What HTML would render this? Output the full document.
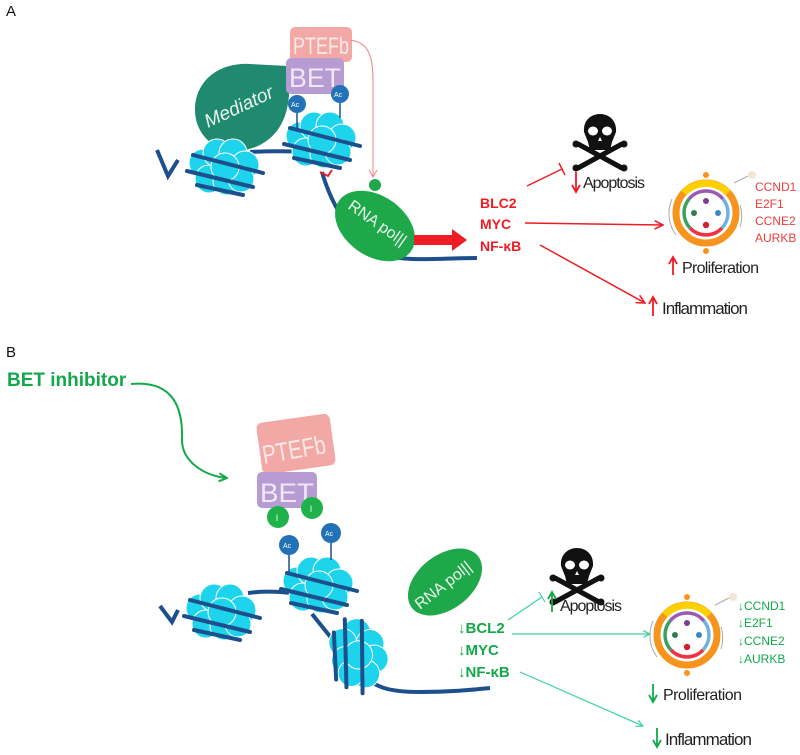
<!DOCTYPE html>
<html><head><meta charset="utf-8"><style>
html,body{margin:0;padding:0;background:#fff}
svg{display:block}
text{font-family:"Liberation Sans",sans-serif}
</style></head><body>
<svg width="800" height="755" viewBox="0 0 800 755" xmlns="http://www.w3.org/2000/svg">
<defs>
<g id="nuc">
  <g fill="#1ed3ec" stroke="#fff" stroke-width="1">
    <circle cx="-20" cy="-4" r="14"/><circle cx="-6" cy="-14" r="14"/><circle cx="10" cy="-14" r="14"/>
    <circle cx="22" cy="-2" r="14"/><circle cx="-14" cy="12" r="14"/><circle cx="4" cy="14" r="14"/>
    <circle cx="18" cy="12" r="13"/><circle cx="2" cy="0" r="14"/>
  </g>
  <g stroke="#1c4f8c" stroke-width="4" fill="none" stroke-linecap="round">
    <path d="M-30,-12 L40,6"/><path d="M-36,4 L30,20"/><path d="M-26,18 L20,28"/>
  </g>
</g>
<g id="skull">
  <g stroke="#111" stroke-width="5" stroke-linecap="round">
    <line x1="-22" y1="6" x2="22" y2="30"/><line x1="22" y1="6" x2="-22" y2="30"/>
  </g>
  <circle cx="-24" cy="6" r="3.5" fill="#111"/><circle cx="24" cy="6" r="3.5" fill="#111"/>
  <circle cx="-24" cy="30" r="3.5" fill="#111"/><circle cx="24" cy="30" r="3.5" fill="#111"/>
  <path d="M-16,-6 C-18,-30 18,-30 16,-6 L12,4 L10,12 L-10,12 L-12,4 Z" fill="#111"/>
  <ellipse cx="-7" cy="-7" rx="5" ry="4.5" fill="#fff"/><ellipse cx="7" cy="-7" rx="5" ry="4.5" fill="#fff"/>
  <path d="M0,-1 L-2,3 L2,3 Z" fill="#fff"/>
</g>
<g id="cycle">
  <circle r="30" fill="none" stroke="#f7941d" stroke-width="7"/>
  <path d="M-22,-20 A30,30 0 0 1 22,-20" fill="none" stroke="#ffd000" stroke-width="7"/>
  <path d="M-17,-14 A22,22 0 0 1 17,-14" fill="none" stroke="#9b59b6" stroke-width="3.5"/>
  <path d="M17,-14 A22,22 0 0 1 16,15" fill="none" stroke="#6fb1e0" stroke-width="3.5"/>
  <path d="M16,15 A22,22 0 0 1 -16,15" fill="none" stroke="#ee3344" stroke-width="3.5"/>
  <path d="M-16,15 A22,22 0 0 1 -17,-14" fill="none" stroke="#3aa060" stroke-width="3.5"/>
  <circle cx="0" cy="-12" r="3" fill="#7b3f91"/><circle cx="12" cy="0" r="3" fill="#3a86c8"/>
  <circle cx="0" cy="12" r="3.2" fill="#d1202f"/><circle cx="-12" cy="0" r="3" fill="#2e7d4f"/>
  <circle cx="0" cy="-38" r="3" fill="#f7941d"/><circle cx="0" cy="38" r="3" fill="#f7941d"/>
  <path d="M-34,-14 A36,36 0 0 0 -30,22" fill="none" stroke="#aaa" stroke-width="1"/>
  <path d="M34,-8 A36,36 0 0 1 34,14" fill="none" stroke="#aaa" stroke-width="1"/>
  <line x1="28" y1="-30" x2="42" y2="-37" stroke="#aaa" stroke-width="1"/>
  <circle cx="46" cy="-38" r="4" fill="#f3e6d6"/>
</g>
<marker id="ar" viewBox="0 0 10 10" refX="9" refY="5" markerWidth="7" markerHeight="7" orient="auto"><path d="M1,1 L9,5 L1,9" fill="none" stroke="#ee1c24" stroke-width="1.5"/></marker>
<marker id="ag" viewBox="0 0 10 10" refX="9" refY="5" markerWidth="7" markerHeight="7" orient="auto"><path d="M1,1 L9,5 L1,9" fill="none" stroke="#3cd49a" stroke-width="1.5"/></marker>
<marker id="ag2" viewBox="0 0 10 10" refX="9" refY="5" markerWidth="5" markerHeight="5" orient="auto"><path d="M1,1 L9,5 L1,9" fill="none" stroke="#12a94a" stroke-width="2"/></marker>
</defs>

<!-- PANEL A -->
<text x="6" y="16" font-size="15" fill="#111">A</text>
<path d="M157,150 L168,176 L178,160 M250,152 C280,150 300,152 318,152 M322,172 C330,200 350,240 380,255 C410,262 440,258 477,258" fill="none" stroke="#1c4f8c" stroke-width="4"/>
<path d="M288,66 C292,100 288,130 260,145 C225,162 195,140 195,110 C195,80 220,62 250,64 Z" fill="#1f8a70"/>
<text x="0" y="0" font-size="19" font-style="italic" fill="#e8f5f0" transform="translate(208,128) rotate(-25)">Mediator</text>
<use href="#nuc" x="223" y="167"/>
<use href="#nuc" x="320" y="140"/>
<rect x="290" y="27" width="62" height="35" rx="5" fill="#f2a9a6"/>
<text x="293" y="54" font-size="24" fill="#fde8e8" textLength="56" lengthAdjust="spacingAndGlyphs">PTEFb</text>
<rect x="286" y="58" width="58" height="36" rx="5" fill="#b79bd3"/>
<text x="289" y="87" font-size="27" fill="#f0e8f8" textLength="52" lengthAdjust="spacingAndGlyphs">BET</text>
<line x1="297" y1="113" x2="297" y2="128" stroke="#1c4f8c" stroke-width="1.5"/>
<line x1="340" y1="103" x2="340" y2="118" stroke="#1c4f8c" stroke-width="1.5"/>
<circle cx="297" cy="104" r="9" fill="#2372b8"/><text x="291" y="107" font-size="7" fill="#fff">Ac</text>
<circle cx="340" cy="94" r="9" fill="#2372b8"/><text x="334" y="97" font-size="7" fill="#fff">Ac</text>
<path d="M320,172 L328,176 L332,170" fill="none" stroke="#ee1c24" stroke-width="2"/>
<path d="M350,40 C365,42 373,50 373,80 L373,176" fill="none" stroke="#f08080" stroke-width="1"/>
<path d="M369,170 L373,177 L377,170" fill="none" stroke="#f08080" stroke-width="1"/>
<circle cx="375" cy="185" r="6" fill="#1fa84a"/>
<ellipse cx="375" cy="226" rx="44" ry="30" fill="#1fa84a" transform="rotate(35 375 226)"/>
<text font-size="16" fill="#e9f7ec" transform="translate(347,208) rotate(35)">RNA pol||</text>
<path d="M414,235 L452,235 L452,229 L467,240 L452,251 L452,245 L414,245 Z" fill="#ee1c24"/>
<g font-size="14" font-weight="bold" fill="#ee1c24">
<text x="480" y="208">BLC2</text><text x="480" y="229">MYC</text><text x="480" y="251">NF-κB</text>
</g>
<line x1="527" y1="186" x2="562" y2="169" stroke="#ee1c24" stroke-width="1.5"/>
<line x1="559" y1="163" x2="565" y2="175" stroke="#ee1c24" stroke-width="1.5"/>
<line x1="525" y1="223" x2="663" y2="225" stroke="#ee1c24" stroke-width="1.5" marker-end="url(#ar)"/>
<line x1="540" y1="245" x2="645" y2="303" stroke="#ee1c24" stroke-width="1.5" marker-end="url(#ar)"/>
<use href="#skull" x="600" y="138"/>
<path d="M576,172 L576,190 M572,185 L576,192 L580,185" fill="none" stroke="#ee1c24" stroke-width="1.8"/>
<text x="583" y="188" font-size="16" fill="#222" textLength="62">Apoptosis</text>
<use href="#cycle" x="706" y="213"/>
<g font-size="12" fill="#ee3b3b">
<text x="755" y="191">CCND1</text><text x="755" y="208">E2F1</text><text x="755" y="225">CCNE2</text><text x="755" y="242">AURKB</text>
</g>
<path d="M673,275 L673,259 M669,264 L673,257 L677,264" fill="none" stroke="#ee1c24" stroke-width="1.8"/>
<text x="682" y="273" font-size="16" fill="#222" textLength="77">Proliferation</text>
<path d="M653,316 L653,299 M649,304 L653,297 L657,304" fill="none" stroke="#ee1c24" stroke-width="1.8"/>
<text x="662" y="314" font-size="17" fill="#222" textLength="86">Inflammation</text>

<!-- PANEL B -->
<text x="6" y="357" font-size="15" fill="#111">B</text>
<text x="7" y="386" font-size="19" font-weight="bold" fill="#12a94a">BET inhibitor</text>
<path d="M131,384 C175,380 183,410 182,440 C182,462 205,476 227,478" fill="none" stroke="#12a94a" stroke-width="2" marker-end="url(#ag2)"/>
<path d="M160,606 L172,622 L178,610 M248,593 C270,590 290,592 310,596 M312,614 C325,630 340,650 360,670 C372,688 390,692 420,692 C450,692 470,690 490,688" fill="none" stroke="#1c4f8c" stroke-width="4"/>
<use href="#nuc" x="220" y="612"/>
<use href="#nuc" x="317" y="585"/>
<g transform="translate(358,653) rotate(75)"><use href="#nuc"/></g>
<rect x="259" y="418" width="74" height="52" rx="6" fill="#f2a9a6" transform="rotate(-8 296 444)"/>
<text font-size="26" fill="#fde8e8" transform="translate(264,464) rotate(-10)" textLength="64" lengthAdjust="spacingAndGlyphs">PTEFb</text>
<rect x="257" y="472" width="60" height="36" rx="5" fill="#b79bd3"/>
<text x="260" y="502" font-size="27" fill="#f0e8f8" textLength="54" lengthAdjust="spacingAndGlyphs">BET</text>
<circle cx="278" cy="517" r="11" fill="#1fb24a"/><text x="276" y="521" font-size="9" fill="#fff">l</text>
<circle cx="312" cy="508" r="11" fill="#1fb24a"/><text x="310" y="512" font-size="9" fill="#fff">l</text>
<line x1="289" y1="555" x2="289" y2="572" stroke="#1c4f8c" stroke-width="1.5"/>
<line x1="331" y1="543" x2="331" y2="560" stroke="#1c4f8c" stroke-width="1.5"/>
<circle cx="289" cy="545" r="10" fill="#2372b8"/><text x="283" y="548" font-size="7" fill="#fff">Ac</text>
<circle cx="331" cy="533" r="10" fill="#2372b8"/><text x="325" y="536" font-size="7" fill="#fff">Ac</text>
<ellipse cx="445" cy="582" rx="42" ry="27" fill="#1fa84a" transform="rotate(-38 445 582)"/>
<text font-size="16" fill="#e9f7ec" transform="translate(420,610) rotate(-38)">RNA pol||</text>
<g font-size="15" font-weight="bold" fill="#12a94a">
<text x="458" y="633">↓BCL2</text><text x="458" y="655">↓MYC</text><text x="458" y="677">↓NF-κB</text>
</g>
<line x1="508" y1="620" x2="542" y2="597" stroke="#3cd49a" stroke-width="1.2"/>
<line x1="539" y1="592" x2="545" y2="602" stroke="#3cd49a" stroke-width="1.2"/>
<line x1="512" y1="634" x2="650" y2="634" stroke="#3cd49a" stroke-width="1.2" marker-end="url(#ag)"/>
<line x1="520" y1="672" x2="643" y2="726" stroke="#3cd49a" stroke-width="1.2" marker-end="url(#ag)"/>
<use href="#skull" x="577" y="572"/>
<path d="M552,612 L552,594 M548,599 L552,592 L556,599" fill="none" stroke="#12a94a" stroke-width="1.8"/>
<text x="560" y="611" font-size="16" fill="#222" textLength="62">Apoptosis</text>
<use href="#cycle" x="687" y="635"/>
<g font-size="12" fill="#12a94a">
<text x="738" y="610">↓CCND1</text><text x="738" y="627">↓E2F1</text><text x="738" y="645">↓CCNE2</text><text x="738" y="663">↓AURKB</text>
</g>
<path d="M653,684 L653,700 M649,695 L653,702 L657,695" fill="none" stroke="#12a94a" stroke-width="1.8"/>
<text x="663" y="700" font-size="16" fill="#222" textLength="79">Proliferation</text>
<path d="M657,728 L657,745 M653,740 L657,747 L661,740" fill="none" stroke="#12a94a" stroke-width="1.8"/>
<text x="665" y="745" font-size="17" fill="#222" textLength="87">Inflammation</text>
</svg>
</body></html>
